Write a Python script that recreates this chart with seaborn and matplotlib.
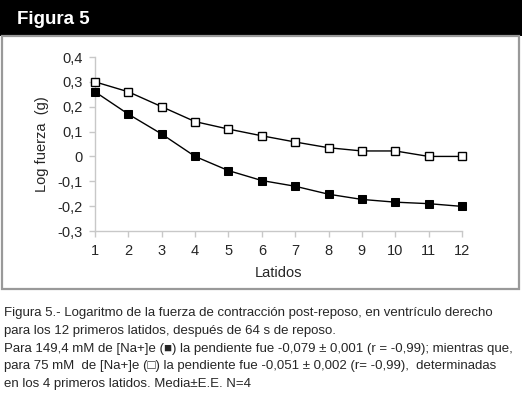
import numpy as np
import pandas as pd
import matplotlib
matplotlib.use('Agg')
import matplotlib.pyplot as plt
import seaborn as sns
from matplotlib.ticker import FuncFormatter
from matplotlib.patches import Rectangle

# Data
latidos = list(range(1, 13))
na_149 = [0.26, 0.17, 0.09, 0.00, -0.057, -0.097, -0.12, -0.152, -0.173, -0.184, -0.19, -0.201]
na_149_se = [0.008, 0.006, 0.006, 0.010, 0.006, 0.006, 0.005, 0.005, 0.005, 0.005, 0.005, 0.005]
na_75 = [0.30, 0.26, 0.20, 0.14, 0.11, 0.083, 0.058, 0.035, 0.022, 0.022, 0.0, 0.0]
na_75_se = [0.006, 0.006, 0.006, 0.006, 0.006, 0.006, 0.005, 0.008, 0.010, 0.010, 0.010, 0.010]

sns.set_style('white')
plt.rcParams['font.family'] = ['Liberation Sans', 'DejaVu Sans']

fig = plt.figure(figsize=(5.22, 3.96), dpi=100)

# Header bar and frame
fig.patches.append(Rectangle((0, 1 - 36 / 396), 1, 36 / 396, transform=fig.transFigure,
                             facecolor='black', edgecolor='none', zorder=0))
fig.text(17 / 522, 1 - 19 / 396, 'Figura 5', color='white', fontsize=13.5, fontweight='bold',
         va='center', ha='left')
fig.patches.append(Rectangle((2 / 522, 1 - 289 / 396), 517 / 522, 253 / 396, transform=fig.transFigure,
                             facecolor='none', edgecolor='#999999', linewidth=1.6, zorder=0))

ax = fig.add_axes([95 / 522, 1 - 231 / 396, (462 - 95) / 522, (231 - 57) / 396])

df = pd.DataFrame({'Latidos': latidos * 2,
                   'valor': na_149 + na_75,
                   'grupo': ['149'] * 12 + ['75'] * 12})

ax.errorbar(latidos, na_149, yerr=na_149_se, fmt='none', ecolor='#888888', elinewidth=1, capsize=2, zorder=2)
ax.errorbar(latidos, na_75, yerr=na_75_se, fmt='none', ecolor='#888888', elinewidth=1, capsize=2, zorder=2)

sns.lineplot(data=df[df.grupo == '149'], x='Latidos', y='valor', ax=ax, color='black',
             marker='s', markersize=6.2, markerfacecolor='black', markeredgecolor='black',
             linewidth=1, clip_on=False, zorder=3)
sns.lineplot(data=df[df.grupo == '75'], x='Latidos', y='valor', ax=ax, color='black',
             marker='s', markersize=6.2, markerfacecolor='white', markeredgecolor='black',
             markeredgewidth=1, linewidth=1, clip_on=False, zorder=3)

ax.set_xlim(1, 12)
ax.set_ylim(-0.3, 0.4)
ax.set_xticks(latidos)
ax.set_yticks(np.round(np.arange(-0.3, 0.41, 0.1), 1))


def coma(v, pos):
    if abs(v) < 1e-9:
        return '0'
    return f'{v:.1f}'.replace('.', ',').replace('\u2212', '-')


ax.yaxis.set_major_formatter(FuncFormatter(coma))
for s in ['top', 'right']:
    ax.spines[s].set_visible(False)
for s in ['left', 'bottom']:
    ax.spines[s].set_color('#c8c8c8')
    ax.spines[s].set_linewidth(1)
ax.tick_params(axis='both', direction='out', length=4, width=1, color='#c8c8c8',
               labelsize=10.5, pad=5, left=True, bottom=True)
ax.set_xlabel('Latidos', fontsize=10.5, labelpad=6)
ax.set_ylabel('Log fuerza  (g)', fontsize=10.5, labelpad=6)

caption = [
    'Figura 5.- Logaritmo de la fuerza de contracción post-reposo, en ventrículo derecho',
    'para los 12 primeros latidos, después de 64 s de reposo.',
    'Para 149,4 mM de [Na+]e (\u25a0) la pendiente fue -0,079 \u00b1 0,001 (r = -0,99); mientras que,',
    'para 75 mM  de [Na+]e (\u25a1) la pendiente fue -0,051 \u00b1 0,002 (r= -0,99),  determinadas',
    'en los 4 primeros latidos. Media\u00b1E.E. N=4',
]
for i, line in enumerate(caption):
    fig.text(4 / 522, 1 - (313 + 17.8 * i) / 396, line, fontsize=9.5, va='center', ha='left')

fig.savefig('out.png', dpi=100)
